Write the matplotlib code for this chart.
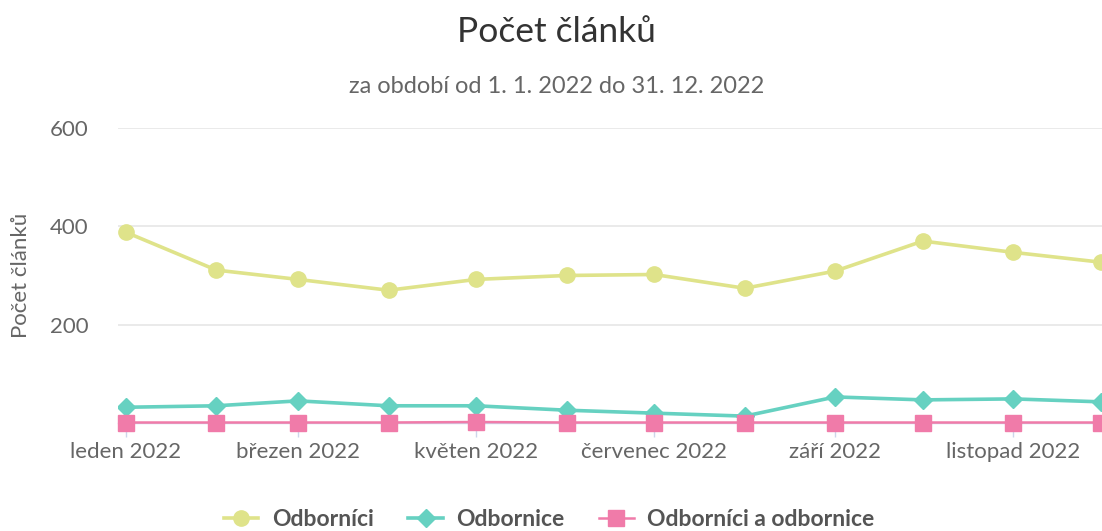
import numpy as np
import matplotlib
matplotlib.use("Agg")
import matplotlib.pyplot as plt
import matplotlib.dates as mdates
from datetime import date, timedelta

plt.rcParams['font.family'] = ['Lato', 'DejaVu Sans']

# data
months = [date(2022, m, 1) for m in range(1, 13)]
tick_months = [date(2022, m, 1) for m in (1, 3, 5, 7, 9, 11)]
tick_labels = ["leden 2022", "březen 2022", "květen 2022",
               "červenec 2022", "září 2022", "listopad 2022"]
odbornici = [388, 311, 292, 270, 292, 300, 302, 274, 309, 370, 347, 327]
odbornice = [32, 35, 45, 35, 35, 26, 20, 14, 53, 47, 49, 43]
oboji = [1, 1, 1, 1, 2, 1, 1, 1, 1, 1, 1, 1]
y_ticks = [200, 400, 600]

c_yellow = "#dfe38a"
c_teal = "#66d1c1"
c_pink = "#f07ba9"
grey = "#666666"

fig = plt.figure(figsize=(11.02, 5.31), dpi=100)
ax = fig.add_axes([0.107, 0.2034, 0.893, 0.5556])

x = mdates.date2num(months)
ax.plot(x, odbornici, color=c_yellow, lw=2.6, marker="o", ms=11, zorder=3, label="Odborníci")
ax.plot(x, odbornice, color=c_teal, lw=2.6, marker="D", ms=9, zorder=3, label="Odbornice")
ax.plot(x, oboji, color=c_pink, lw=1.8, marker="s", ms=11, zorder=3, clip_on=False,
        label="Odborníci a odbornice")

ax.set_ylim(0, 600)
ax.set_xlim(mdates.date2num(date(2022, 1, 1)) - 2.7, mdates.date2num(date(2022, 12, 1)) + 0.35)

ax.set_yticks(y_ticks)
ax.grid(axis="y", color="#e6e6e6", lw=1.2)
ax.set_axisbelow(True)
ax.tick_params(axis="y", length=0, labelsize=16, labelcolor=grey, pad=21)

ax.set_xticks(mdates.date2num(tick_months))
ax.set_xticklabels(tick_labels)
ax.tick_params(axis="x", length=10, width=1, color="#ccd6eb", labelsize=16,
               labelcolor=grey, pad=4)

for s in ("top", "right", "left"):
    ax.spines[s].set_visible(False)
ax.spines["bottom"].set_color("#ccd6eb")
ax.spines["bottom"].set_linewidth(1)

ax.set_ylabel("Počet článků", fontsize=16, color=grey, labelpad=14)

fig.text(0.505, 0.94, "Počet článků", ha="center", va="center", fontsize=25.5, color="#333333")
fig.text(0.505, 0.838, "za období od 1. 1. 2022 do 31. 12. 2022", ha="center", va="center",
         fontsize=17, color=grey)

leg = fig.legend(loc="center", bbox_to_anchor=(0.4985, 0.022), ncol=3, frameon=False,
                 prop={"size": 16.5, "weight": "bold"}, handlelength=1.5,
                 columnspacing=1.5, handletextpad=0.6, labelcolor="#555555")

fig.savefig("out.png", dpi=100)
